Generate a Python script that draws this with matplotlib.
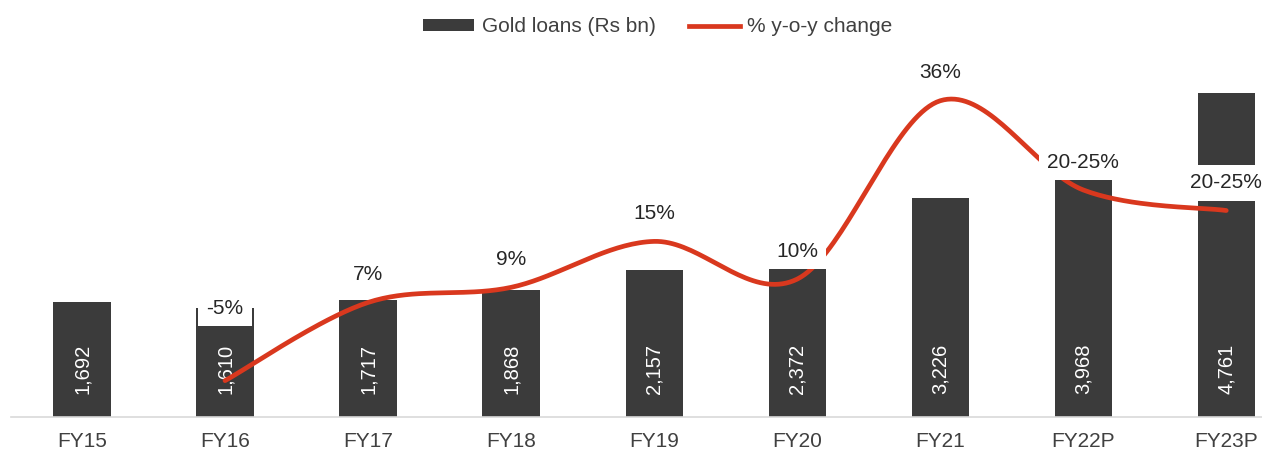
import numpy as np
import matplotlib
matplotlib.use("Agg")
import matplotlib.pyplot as plt
from matplotlib.patches import Patch
from matplotlib.lines import Line2D

plt.rcParams['font.family'] = ['Liberation Sans', 'DejaVu Sans']

# data
years = ['FY15', 'FY16', 'FY17', 'FY18', 'FY19', 'FY20', 'FY21', 'FY22P', 'FY23P']
loans = [1692, 1610, 1717, 1868, 2157, 2372, 3226, 3968, 4761]
loan_labels = ['1,692', '1,610', '1,717', '1,868', '2,157', '2,372', '3,226', '3,968', '4,761']
yoy = [-4.8, 6.6, 8.8, 15.5, 10.0, 36.0, 23.0, 20.0]   # FY16 .. FY23P
yoy_labels = ['-5%', '7%', '9%', '15%', '10%', '36%', '20-25%', '20-25%']

BAR = '#3b3b3b'
RED = '#d9381e'
TXT = '#404040'


def smooth(xs, ys, n=40):
    # Excel style smoothed line: cubic bezier with catmull-rom control points
    p = np.column_stack([xs, ys]).astype(float)
    p = np.vstack([p[0], p, p[-1]])
    out = []
    for i in range(1, len(p) - 2):
        p0, p1, p2, p3 = p[i - 1], p[i], p[i + 1], p[i + 2]
        c1 = p1 + (p2 - p0) / 6.0
        c2 = p2 - (p3 - p1) / 6.0
        t = np.linspace(0, 1, n)[:, None]
        seg = ((1 - t) ** 3) * p1 + 3 * ((1 - t) ** 2) * t * c1 + 3 * (1 - t) * t ** 2 * c2 + t ** 3 * p2
        out.append(seg)
    out = np.vstack(out)
    return out[:, 0], out[:, 1]


fig = plt.figure(figsize=(12.62, 4.5), dpi=100)
ax = fig.add_axes([10.5 / 1262, 33 / 450, 1 - 10.5 / 1262, 367 / 450])

x = np.arange(len(years))
ax.bar(x, loans, width=0.4, color=BAR, zorder=2)
ax.set_xlim(-0.5, 8.25)
ax.set_ylim(0, 5400)

for i, lab in enumerate(loan_labels):
    ax.annotate(lab, xy=(x[i], 0), xytext=(0, 16.5), textcoords='offset points',
                rotation=90, ha='center', va='bottom', color='white', fontsize=14.5, zorder=3)

for s in ['top', 'left', 'right']:
    ax.spines[s].set_visible(False)
ax.spines['bottom'].set_color('#d9d9d9')
ax.spines['bottom'].set_linewidth(1.2)
ax.set_yticks([])
ax.set_xticks(x)
ax.set_xticklabels(years, fontsize=15, color=TXT)
ax.tick_params(axis='x', length=0, pad=11)

ax2 = ax.twinx()
ax2.set_ylim(-10.1, 43.4)
ax2.set_yticks([])
for s in ax2.spines.values():
    s.set_visible(False)

xl = x[1:]
sx, sy = smooth(xl, yoy)
ax2.plot(sx, sy, color=RED, linewidth=3.4, solid_capstyle='round', zorder=4)

for i, lab in enumerate(yoy_labels):
    off = 52 if lab == '-5%' else 20
    ax2.annotate(lab, xy=(xl[i], yoy[i]), xytext=(0, off), textcoords='offset points',
                 ha='center', va='center', fontsize=15, color='#262626', zorder=5,
                 bbox=dict(boxstyle='square,pad=0.4', facecolor='white', edgecolor='none'))

handles = [Patch(facecolor=BAR, edgecolor='none'),
           Line2D([0], [0], color=RED, linewidth=3.4)]
fig.legend(handles, ['Gold loans (Rs bn)', '% y-o-y change'], loc='center',
           bbox_to_anchor=(658 / 1262, 1 - 27 / 450), ncol=2, frameon=False,
           fontsize=15, handlelength=2.45, handleheight=0.45, handletextpad=0.35,
           columnspacing=1.6, labelcolor=TXT)

fig.savefig('out.png', dpi=100)
